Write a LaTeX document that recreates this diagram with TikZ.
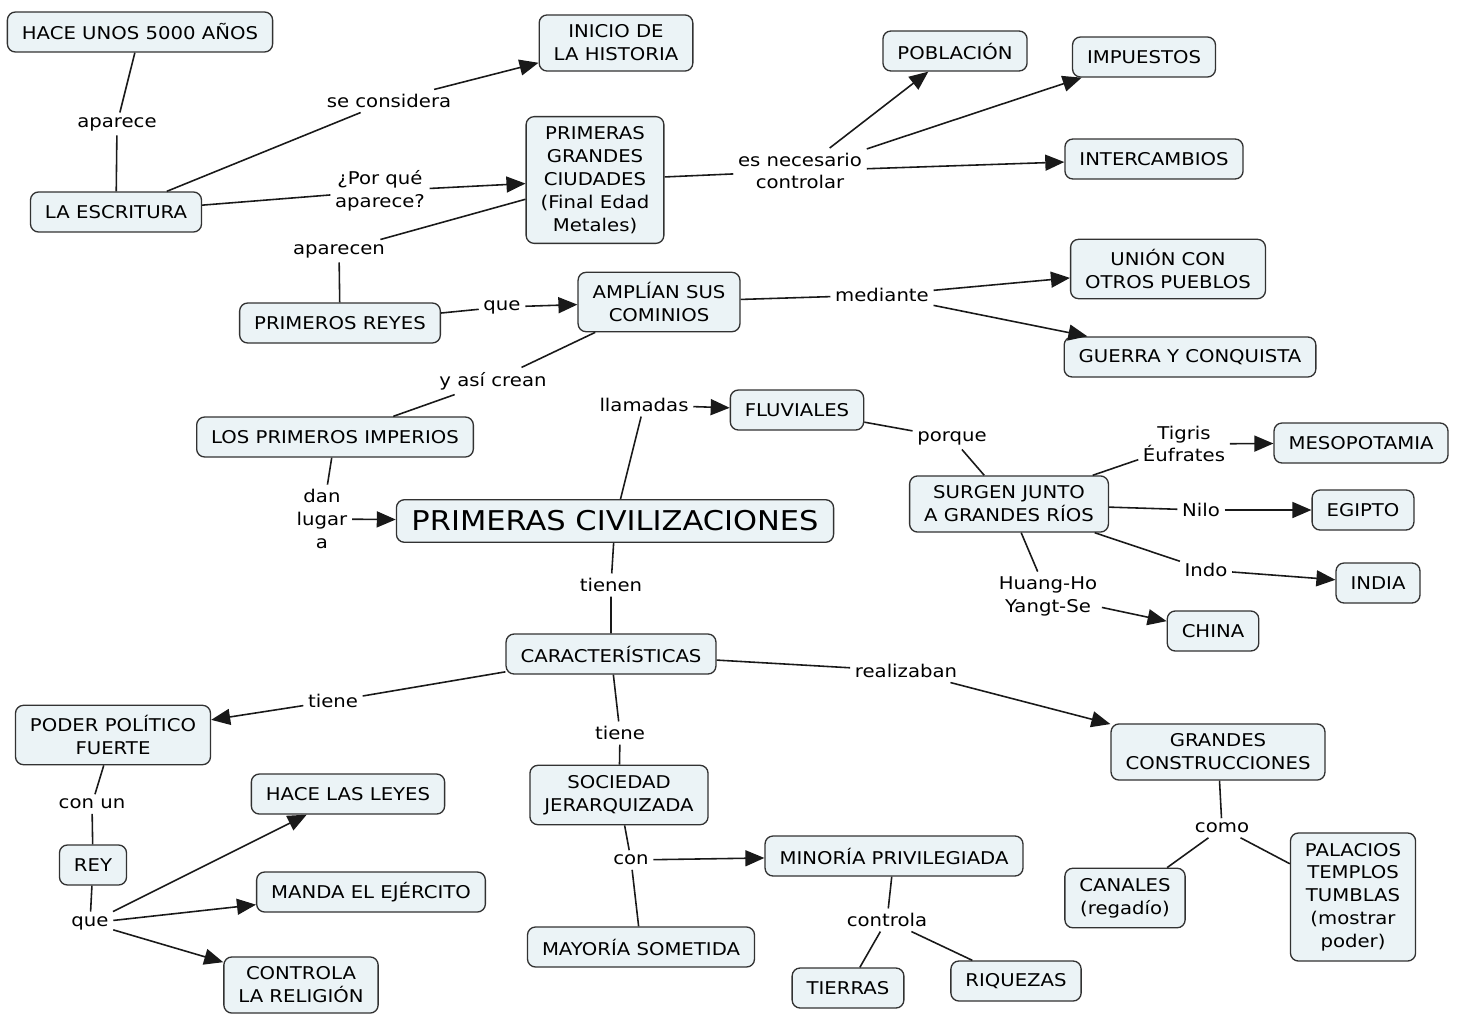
\documentclass[tikz,border=0pt]{standalone}
\usepackage{fontspec}
\setmainfont{DejaVu Sans}[FakeStretch=1.12]
\usetikzlibrary{arrows.meta,positioning}
\definecolor{cmapfill}{RGB}{235,243,246}
\definecolor{cmapline}{RGB}{50,50,50}

\begin{document}
\begin{tikzpicture}[
  x=0.02cm, y=-0.02cm,
  concept/.style={rectangle, draw=cmapline, line width=0.75pt, rounded corners=0.16cm, fill=cmapfill,
    inner xsep=0.29cm, inner ysep=0.2cm, minimum height=0.8cm, align=center,
    font=\fontsize{10}{13}\selectfont},
  link/.style={inner sep=2.5pt, align=center, font=\fontsize{10}{13}\selectfont},
  line/.style={line width=0.9pt, black!90},
  arr/.style={line, -{Triangle[length=0.38cm,width=0.32cm]}}
  ]
  \useasboundingbox (0,0) rectangle (1462,1017);

  \node[concept] (hace) at (140,32) {HACE UNOS 5000 AÑOS};
  \node[concept] (inicio) at (616,43) {INICIO DE\\LA HISTORIA};
  \node[concept] (escritura) at (116,212) {LA ESCRITURA};
  \node[concept] (ciudades) at (595,180) {PRIMERAS\\GRANDES\\CIUDADES\\(Final Edad\\Metales)};
  \node[concept] (poblacion) at (955,51) {POBLACIÓN};
  \node[concept] (impuestos) at (1144,57) {IMPUESTOS};
  \node[concept] (intercambios) at (1154,159) {INTERCAMBIOS};
  \node[concept] (union) at (1168,269) {UNIÓN CON\\OTROS PUEBLOS};
  \node[concept] (guerra) at (1190,357) {GUERRA Y CONQUISTA};
  \node[concept] (reyes) at (340,323) {PRIMEROS REYES};
  \node[concept] (amplian) at (659,302) {AMPLÍAN SUS\\COMINIOS};
  \node[concept] (imperios) at (335,437) {LOS PRIMEROS IMPERIOS};
  \node[concept] (fluviales) at (797,410) {FLUVIALES};
  \node[concept, font=\fontsize{15.5}{18}\selectfont, inner xsep=0.3cm, inner ysep=0.22cm] (civ) at (615,521) {PRIMERAS CIVILIZACIONES};
  \node[concept] (surgen) at (1009,504) {SURGEN JUNTO\\A GRANDES RÍOS};
  \node[concept] (meso) at (1361,443) {MESOPOTAMIA};
  \node[concept] (egipto) at (1363,510) {EGIPTO};
  \node[concept] (india) at (1378,583) {INDIA};
  \node[concept] (china) at (1213,631) {CHINA};
  \node[concept] (caract) at (611,654) {CARACTERÍSTICAS};
  \node[concept] (poder) at (113,735) {PODER POLÍTICO\\FUERTE};
  \node[concept] (leyes) at (348,794) {HACE LAS LEYES};
  \node[concept] (rey) at (93,865) {REY};
  \node[concept] (manda) at (371,892) {MANDA EL EJÉRCITO};
  \node[concept] (religion) at (301,985) {CONTROLA\\LA RELIGIÓN};
  \node[concept] (sociedad) at (619,795) {SOCIEDAD\\JERARQUIZADA};
  \node[concept] (minoria) at (894,856) {MINORÍA PRIVILEGIADA};
  \node[concept] (mayoria) at (641,947) {MAYORÍA SOMETIDA};
  \node[concept] (tierras) at (848,988) {TIERRAS};
  \node[concept] (riquezas) at (1016,981) {RIQUEZAS};
  \node[concept] (grandes) at (1218,752) {GRANDES\\CONSTRUCCIONES};
  \node[concept] (canales) at (1125,898) {CANALES\\(regadío)};
  \node[concept] (palacios) at (1353,897) {PALACIOS\\TEMPLOS\\TUMBLAS\\(mostrar\\poder)};

  \node[link] (aparece) at (117,124) {aparece};
  \node[link] (seconsidera) at (389,101) {se considera};
  \node[link] (porque1) at (380,191) {¿Por qué\\aparece?};
  \node[link] (aparecen) at (339,251) {aparecen};
  \node[link] (controlar) at (800,171) {es necesario\\controlar};
  \node[link] (que1) at (502,307) {que};
  \node[link] (mediante) at (882,295) {mediante};
  \node[link] (crean) at (493,381) {y así crean};
  \node[link] (danlugar) at (322,519) {dan\\lugar\\a};
  \node[link] (llamadas) at (644,405) {llamadas};
  \node[link] (porque2) at (952,438) {porque};
  \node[link] (tigris) at (1184,444) {Tigris\\Éufrates};
  \node[link] (nilo) at (1201,510) {Nilo};
  \node[link] (indo) at (1206,570) {Indo};
  \node[link] (huang) at (1048,596) {Huang-Ho\\Yangt-Se};
  \node[link] (tienen) at (611,585) {tienen};
  \node[link] (tiene1) at (333,701) {tiene};
  \node[link] (tiene2) at (620,733) {tiene};
  \node[link] (realizaban) at (906,671) {realizaban};
  \node[link] (conun) at (92,804) {con un};
  \node[link] (que2) at (90,923) {que};
  \node[link] (con) at (631,860) {con};
  \node[link] (controla) at (887,920) {controla};
  \node[link] (como) at (1222,828) {como};

  \draw[line] (hace) -- (aparece) -- (escritura);
  \draw[line] (escritura) -- (seconsidera);
  \draw[arr] (seconsidera) -- (inicio);
  \draw[line] (escritura) -- (porque1);
  \draw[arr] (porque1) -- (ciudades);
  \draw[line] (ciudades) -- (aparecen) -- (reyes);

  \draw[line] (ciudades) -- (controlar);
  \draw[arr] (controlar) -- (poblacion);
  \draw[arr] (controlar) -- (impuestos);
  \draw[arr] (controlar) -- (intercambios);

  \draw[line] (reyes) -- (que1);
  \draw[arr] (que1) -- (amplian);
  \draw[line] (amplian) -- (mediante);
  \draw[arr] (mediante) -- (union);
  \draw[arr] (mediante) -- (guerra);
  \draw[line] (amplian) -- (crean) -- (imperios);

  \draw[line] (imperios) -- (danlugar);
  \draw[arr] (danlugar) -- (civ);
  \draw[line] (civ) -- (llamadas);
  \draw[arr] (llamadas) -- (fluviales);
  \draw[line] (fluviales) -- (porque2) -- (surgen);

  \draw[line] (surgen) -- (tigris);
  \draw[arr] (tigris) -- (meso);
  \draw[line] (surgen) -- (nilo);
  \draw[arr] (nilo) -- (egipto);
  \draw[line] (surgen) -- (indo);
  \draw[arr] (indo) -- (india);
  \draw[line] (surgen) -- (huang);
  \draw[arr] (huang) -- (china);

  \draw[line] (civ) -- (tienen) -- (caract);
  \draw[line] (caract) -- (tiene1);
  \draw[arr] (tiene1) -- (poder);
  \draw[line] (caract) -- (tiene2) -- (sociedad);
  \draw[line] (caract) -- (realizaban);
  \draw[arr] (realizaban) -- (grandes);

  \draw[line] (poder) -- (conun) -- (rey);
  \draw[line] (rey) -- (que2);
  \draw[arr] (que2) -- (leyes);
  \draw[arr] (que2) -- (manda);
  \draw[arr] (que2) -- (religion);

  \draw[line] (sociedad) -- (con);
  \draw[arr] (con) -- (minoria);
  \draw[line] (con) -- (mayoria);
  \draw[line] (minoria) -- (controla);
  \draw[line] (controla) -- (tierras);
  \draw[line] (controla) -- (riquezas);

  \draw[line] (grandes) -- (como);
  \draw[line] (como) -- (canales);
  \draw[line] (como) -- (palacios);
\end{tikzpicture}
\end{document}
